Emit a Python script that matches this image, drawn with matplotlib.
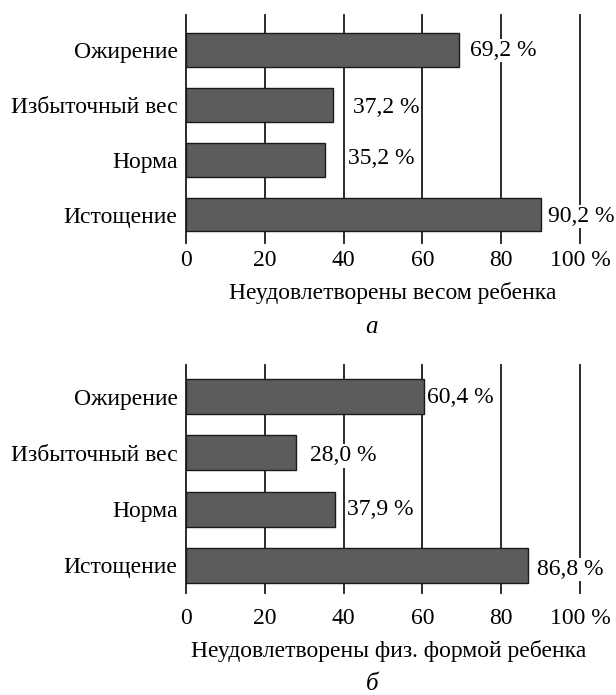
import matplotlib
matplotlib.use("Agg")
import matplotlib.pyplot as plt

plt.rcParams['font.family'] = ['Liberation Serif', 'DejaVu Serif']

categories = ["Истощение", "Норма", "Избыточный вес", "Ожирение"]
values_a = [90.2, 35.2, 37.2, 69.2]
values_b = [86.8, 37.9, 28.0, 60.4]
xticks = [0, 20, 40, 60, 80, 100]
xticklabels = ["0", "20", "40", "60", "80", "100 %"]
xlabel_a = "Неудовлетворены весом ребенка"
xlabel_b = "Неудовлетворены физ. формой ребенка"
caption_a = "а"
caption_b = "б"

# label offsets (points) for x and y, per bar
offs_a = [(5.0, -1.5), (16.8, 0.7), (14.7, -2.2), (8.2, -0.1)]
offs_b = [(6.5, -2.9), (8.4, -0.1), (9.9, -2.2), (2.2, -0.8)]

W, H = 616, 695
FS = 17
fig = plt.figure(figsize=(W / 100, H / 100), dpi=100)


def panel(top_px, bot_px, vals, offs, ylim, bh, xlabel, xlab_x, tick_pad,
          lab_pad, caption, cap_y):
    ax = fig.add_axes([186 / W, 1 - bot_px / H, (580 - 186) / W, (bot_px - top_px) / H])
    y = list(range(len(categories)))
    ax.barh(y, vals, height=bh, color="#5c5c5c", edgecolor="#1a1a1a", linewidth=1.0, zorder=3)
    for xv in xticks:
        ax.axvline(xv, color="#1a1a1a", lw=1.3, zorder=1, clip_on=False)
    for yi, v, (dx, dy) in zip(y, vals, offs):
        ax.annotate(f"{v:.1f} %".replace(".", ","), (v, yi), xytext=(dx, dy),
                    textcoords="offset points", va="center", ha="left",
                    fontsize=FS, zorder=4,
                    bbox=dict(boxstyle="square,pad=0.05", fc="white", ec="none"))
    ax.set_xlim(0, 100)
    ax.set_ylim(*ylim)
    ax.set_yticks(y)
    ax.set_yticklabels(categories, fontsize=FS)
    ax.set_xticks(xticks)
    ax.set_xticklabels(xticklabels, fontsize=FS)
    ax.tick_params(axis='y', length=0, pad=6)
    ax.tick_params(axis='x', length=0, pad=tick_pad)
    for s in ax.spines.values():
        s.set_visible(False)
    ax.set_xlabel(xlabel, fontsize=FS, labelpad=lab_pad)
    ax.xaxis.label.set_x(xlab_x)
    fig.text(372 / W, 1 - cap_y / H, caption, fontsize=FS + 1, style="italic",
             ha="center", va="center")
    return ax


panel(15, 243, values_a, offs_a, (-0.52, 3.64), 0.62, xlabel_a, 0.525, 5, 8,
      caption_a, 327)
panel(365, 593, values_b, offs_b, (-0.49, 3.56), 0.62, xlabel_b, 0.515, 10.5, 8,
      caption_b, 684)

fig.savefig("out.png", dpi=100, facecolor="white")
